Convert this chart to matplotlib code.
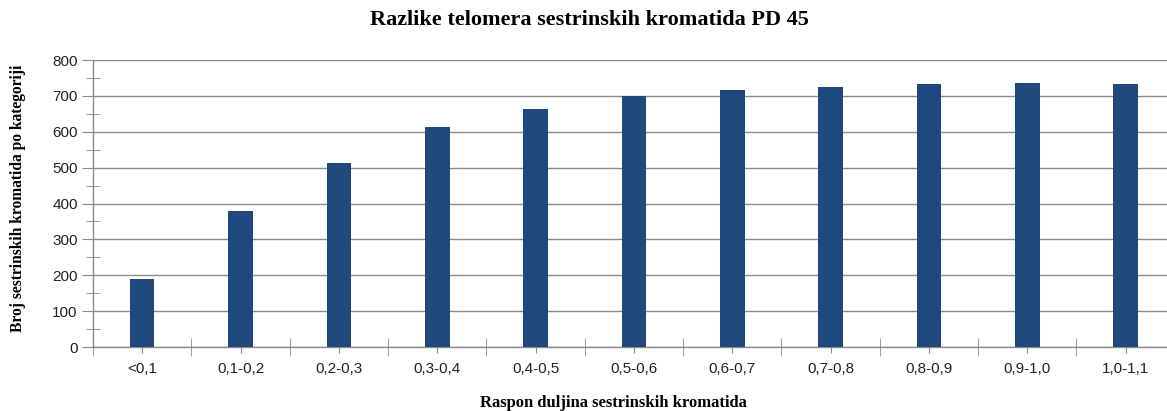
import numpy as np
import matplotlib.pyplot as plt
from matplotlib.ticker import MultipleLocator

categories = ['<0,1', '0,1-0,2', '0,2-0,3', '0,3-0,4', '0,4-0,5', '0,5-0,6',
              '0,6-0,7', '0,7-0,8', '0,8-0,9', '0,9-1,0', '1,0-1,1']
counts = [189, 380, 514, 613, 663, 699, 717, 726, 733, 735, 734]

bar_color = '#1f497d'
grid_color = '#8c8c8c'

fig = plt.figure(figsize=(11.67, 4.11), dpi=100)
ax = fig.add_axes([0.0797, 0.1557, 0.927, 0.698])

x = np.arange(len(categories))
ax.bar(x, counts, width=0.25, color=bar_color, zorder=3)

ax.set_xlim(-0.5, len(categories) - 0.5)
ax.set_ylim(0, 800)
ax.yaxis.set_major_locator(MultipleLocator(100))
ax.yaxis.set_minor_locator(MultipleLocator(50))
ax.grid(axis='y', which='major', color=grid_color, lw=1, zorder=0)

for s in ['top', 'right']:
    ax.spines[s].set_visible(False)
for s in ['left', 'bottom']:
    ax.spines[s].set_color(grid_color)
    ax.spines[s].set_linewidth(1)

tick_font = {'family': 'Liberation Sans', 'size': 11}
ax.set_xticks(x)
ax.set_xticklabels(categories, fontdict=tick_font, color='#222222')
ax.set_xticks(np.arange(-0.5, len(categories), 1), minor=True)
ax.tick_params(axis='x', which='major', length=4, color=grid_color, pad=7)
ax.tick_params(axis='x', which='minor', length=13, direction='inout', color=grid_color)
ax.set_yticks(np.arange(0, 801, 100))
ax.set_yticklabels([str(v) for v in range(0, 801, 100)], fontdict=tick_font, color='#222222')
ax.tick_params(axis='y', which='major', length=8, color=grid_color, pad=3)
ax.tick_params(axis='y', which='minor', length=10, direction='inout', color=grid_color)

fig.text(0.505, 0.951, 'Razlike telomera sestrinskih kromatida PD 45',
         ha='center', va='center', fontsize=16, fontweight='bold',
         family='Liberation Serif')
ax.set_xlabel('Raspon duljina sestrinskih kromatida', fontsize=12,
              fontweight='bold', family='Liberation Serif')
ax.xaxis.set_label_coords(0.4815, -0.168)
ax.set_ylabel('Broj sestrinskih kromatida po kategoriji', fontsize=11.2,
              fontweight='bold', family='Liberation Serif')
ax.yaxis.set_label_coords(-0.062, 0.519)

fig.savefig('out.png', dpi=100)
